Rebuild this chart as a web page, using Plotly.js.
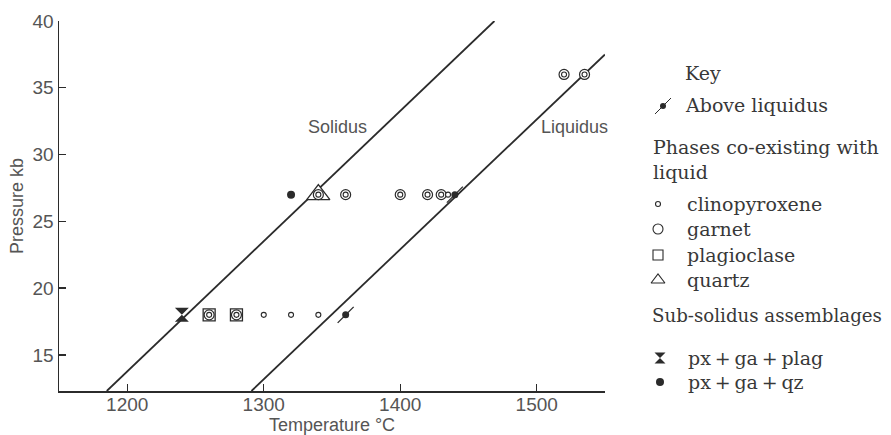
<!DOCTYPE html>
<html><head><meta charset="utf-8">
<script src="https://cdn.plot.ly/plotly-3.0.1.min.js"></script>
<style>html,body{margin:0;padding:0;background:#fff}#chart{width:891px;height:435px}</style>
</head><body><div id="chart"></div>
<script>
// ---- data (temperature °C, pressure kb) ----
const solidusT = [1185, 1469];
const solidusP = [12.3, 40];
const liquidusT = [1291, 1550];
const liquidusP = [12.3, 37.5];
// phases co-existing with liquid
const cpxOnlyT = [1300, 1320, 1340, 1435];
const cpxOnlyP = [18, 18, 18, 27];
const garnetT = [1260, 1280, 1340, 1360, 1400, 1420, 1430, 1520, 1535]; // garnet + cpx
const garnetP = [18, 18, 27, 27, 27, 27, 27, 36, 36];
const plagT = [1260, 1280];
const plagP = [18, 18];
const quartzT = [1340];
const quartzP = [27];
// above liquidus
const aboveT = [1360, 1440];
const aboveP = [18, 27];
// sub-solidus assemblages
const pxGaPlagT = [1240];
const pxGaPlagP = [18];
const pxGaQzT = [1320];
const pxGaQzP = [27];
// axis ticks
const xTicks = [1200, 1300, 1400, 1500];
const yTicks = [15, 20, 25, 30, 35, 40];
// legend
const keyTitle = 'Key';
const keyLabels = ['Above liquidus', 'clinopyroxene', 'garnet', 'plagioclase', 'quartz', 'px\u2009+\u2009ga\u2009+\u2009plag', 'px\u2009+\u2009ga\u2009+\u2009qz'];
const keyHeads = ['Phases co-existing with', 'liquid', 'Sub-solidus assemblages'];

const W = 891, H = 435;
const INK = '#2b2b2b';
const cpxT = cpxOnlyT.concat(garnetT), cpxP = cpxOnlyP.concat(garnetP);

const traces = [
  {x: solidusT, y: solidusP, mode: 'lines', line: {color: INK, width: 1.8}},
  {x: liquidusT, y: liquidusP, mode: 'lines', line: {color: INK, width: 1.8}},
  {x: plagT, y: plagP, mode: 'markers', marker: {symbol: 'square', size: 12, color: '#fff', line: {color: INK, width: 1.3}}},
  {x: quartzT, y: quartzP, mode: 'markers', marker: {symbol: 'triangle-up', size: 20, color: '#fff', line: {color: INK, width: 1.3}}},
  {x: garnetT, y: garnetP, mode: 'markers', marker: {symbol: 'circle', size: 10, color: '#fff', line: {color: INK, width: 1.2}}},
  {x: cpxT, y: cpxP, mode: 'markers', marker: {symbol: 'circle', size: 5, color: '#fff', line: {color: INK, width: 1.1}}},
  {x: aboveT, y: aboveP, mode: 'markers', marker: {symbol: 'line-ne', size: 16, line: {color: INK, width: 1.3}}},
  {x: aboveT, y: aboveP, mode: 'markers', marker: {symbol: 'circle', size: 7, color: INK}},
  {x: pxGaPlagT, y: pxGaPlagP, mode: 'markers', marker: {symbol: 'hourglass', size: 14, color: INK, line: {width: 0}}},
  {x: pxGaQzT, y: pxGaQzP, mode: 'markers', marker: {symbol: 'circle', size: 8, color: INK}}
];

// legend symbols on a pixel-mapped overlay axis
const lx = 658;
const ly = {above: 106, cpx: 204, gar: 229, plag: 255, qz: 280, hg: 358, dot: 382};
const L = (xs, ys, m) => ({x: xs, y: ys, xaxis: 'x2', yaxis: 'y2', mode: 'markers', marker: m});
traces.push(
  L([663], [ly.above], {symbol: 'line-ne', size: 16, line: {color: INK, width: 1}}),
  L([663], [ly.above], {symbol: 'circle', size: 6, color: INK}),
  L([lx], [ly.cpx], {symbol: 'circle', size: 5, color: '#fff', line: {color: INK, width: 1.1}}),
  L([lx], [ly.gar], {symbol: 'circle', size: 10, color: '#fff', line: {color: INK, width: 1.1}}),
  L([lx], [ly.plag], {symbol: 'square', size: 10, color: '#fff', line: {color: INK, width: 1.1}}),
  L([lx], [ly.qz], {symbol: 'triangle-up', size: 12, color: '#fff', line: {color: INK, width: 1.1}}),
  L([660], [ly.hg], {symbol: 'hourglass', size: 11, color: INK, line: {width: 0}}),
  L([660], [ly.dot], {symbol: 'circle', size: 8, color: INK})
);

const serif = {family: 'DejaVu Serif', size: 19, color: '#383838'};
const serifHead = {family: 'DejaVu Serif', size: 18.2, color: '#383838'};
const A = (x, y, t, f) => ({x: x, y: y, xref: 'x2', yref: 'y2', text: t, showarrow: false, xanchor: 'left', yanchor: 'middle', font: f || serif});
const sansLbl = {family: 'Liberation Sans', size: 18, color: '#555'};
const annotations = [
  A(683, 73, keyTitle),
  A(683, 105, keyLabels[0]),
  A(651, 147, keyHeads[0]),
  A(651, 172, keyHeads[1]),
  A(685, 204, keyLabels[1]),
  A(685, 229, keyLabels[2]),
  A(685, 255, keyLabels[3]),
  A(685, 280, keyLabels[4]),
  A(650, 315, keyHeads[2], serifHead),
  A(686, 358, keyLabels[5]),
  A(686, 382, keyLabels[6]),
  {x: 1354, y: 32.1, xref: 'x', yref: 'y', text: 'Solidus', showarrow: false, font: sansLbl},
  {x: 1528, y: 32.1, xref: 'x', yref: 'y', text: 'Liquidus', showarrow: false, font: sansLbl}
];

const axisCommon = {
  showgrid: false, zeroline: false, showline: true, linecolor: INK, linewidth: 1.5,
  ticks: 'inside', ticklen: 7, tickwidth: 1.3, tickcolor: INK,
  tickfont: {family: 'Liberation Sans', size: 19, color: '#555'}
};

const layout = {
  width: W, height: H, showlegend: false,
  margin: {l: 0, r: 0, t: 0, b: 0},
  paper_bgcolor: '#fff', plot_bgcolor: 'rgba(0,0,0,0)',
  xaxis: Object.assign({}, axisCommon, {
    domain: [59 / W, 605 / W], range: [1150, 1550], tickvals: xTicks, ticktext: xTicks.map(String),
    anchor: 'y', ticklabelstandoff: -4,
    title: {text: 'Temperature °C', font: {family: 'Liberation Sans', size: 18, color: '#555'}, standoff: 4}
  }),
  yaxis: Object.assign({}, axisCommon, {
    domain: [1 - 391 / H, 1 - 21 / H], range: [12.3, 40], tickvals: yTicks, ticktext: yTicks.map(String),
    anchor: 'x',
    title: {text: 'Pressure kb', font: {family: 'Liberation Sans', size: 18, color: '#555'}, standoff: 4}
  }),
  xaxis2: {domain: [0, 1], range: [0, W], visible: false, anchor: 'y2', fixedrange: true},
  yaxis2: {domain: [0, 1], range: [H, 0], visible: false, anchor: 'x2', fixedrange: true},
  annotations: annotations
};

Plotly.newPlot('chart', traces, layout, {displayModeBar: false, staticPlot: true});
</script>
</body></html>
